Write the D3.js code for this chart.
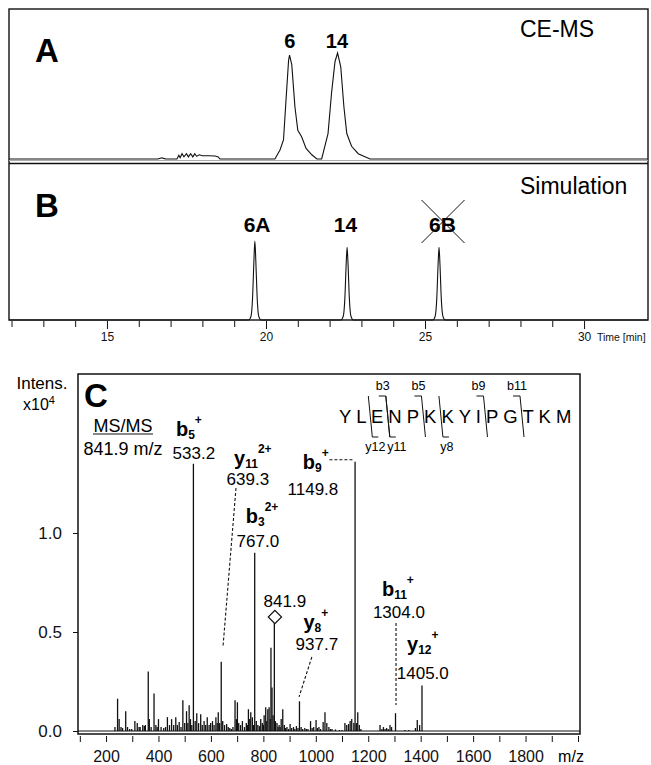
<!DOCTYPE html>
<html>
<head>
<meta charset="utf-8">
<script src="https://cdn.jsdelivr.net/npm/d3@7"></script>
<style>
    body { margin: 0; background: #fff; }
    svg { display: block; font-family: "Liberation Sans", Arial, sans-serif; }
</style>
</head>
<body>
<svg id="chart" width="651" height="765"></svg>
<script>
// Panel A: CE-MS electropherogram (time in min, relative intensity)
const timeA = [11.92, 16.6, 16.68, 16.72, 16.78, 16.85, 17.2, 17.26, 17.3, 17.36, 17.42, 17.5, 17.56,
    17.63, 17.7, 17.76, 17.82, 17.9, 18.0, 18.2, 18.4, 18.5, 18.55, 20.28, 20.44, 20.55, 20.63,
    20.71, 20.74, 20.81, 20.91, 21.0, 21.12, 21.26, 21.44, 21.6, 21.75, 21.95, 22.06, 22.17, 22.25,
    22.35, 22.45, 22.54, 22.69, 22.9, 23.27, 32.0];
const intensA = [0, 0, 0.008, 0.012, 0.006, 0, 0, 0.035, 0.012, 0.05, 0.02, 0.05, 0.02,
    0.05, 0.02, 0.05, 0.025, 0.04, 0.03, 0.03, 0.028, 0.02, 0, 0, 0.085, 0.18, 0.56,
    0.93, 0.98, 0.89, 0.49, 0.27, 0.21, 0.10, 0.04, 0, 0, 0.24, 0.62, 0.92, 1.0,
    0.87, 0.49, 0.24, 0.12, 0.05, 0, 0];

// Panel B: simulated electropherogram
const timeB = [11.92, 19.45, 19.53, 19.58, 19.62, 19.65, 19.68, 19.72, 19.77, 19.85,
    22.35, 22.43, 22.48, 22.52, 22.55, 22.58, 22.62, 22.67, 22.75,
    25.24, 25.32, 25.37, 25.41, 25.44, 25.47, 25.51, 25.56, 25.64, 32.0];
const intensB = [0, 0, 0.05, 0.3, 0.75, 1.0, 0.75, 0.3, 0.05, 0,
    0, 0.05, 0.28, 0.7, 0.92, 0.7, 0.28, 0.05, 0,
    0, 0.05, 0.28, 0.7, 0.92, 0.7, 0.28, 0.05, 0, 0];

const peakLabelsA = ['6', '14'];
const peakTimesA = [20.75, 22.23];
const peakLabelsB = ['6A', '14', '6B'];
const peakTimesB = [19.72, 22.5, 25.55];

const timeTicks = [12, 13, 14, 15, 16, 17, 18, 19, 20, 21, 22, 23, 24, 25, 26, 27, 28, 29, 30];
const timeTickLabels = [15, 20, 25, 30];

// Panel C: MS/MS spectrum (m/z, intensity x10^4)
const mzValues = [234, 244, 250, 257, 263, 275, 282, 290, 298, 310, 319, 326, 330, 340, 346, 350, 361, 365, 372, 383, 390,
    395, 400, 410, 420, 427, 434, 442, 450, 458, 466, 472, 479, 486, 493, 500, 507, 512, 517, 522, 527,
    533.2, 540, 546, 553, 561, 567, 574, 580, 586, 593, 599, 606, 612, 619, 624, 628, 633, 639.3, 645,
    652, 660, 666, 672, 678, 684, 692, 697, 701, 706, 713, 720, 728, 735, 739, 743, 748, 752, 758, 763, 767.0,
    773, 779, 785, 790, 796, 800, 803, 809, 813, 817, 822, 826, 829, 833, 837, 841.9, 846, 852, 856, 860,
    864, 868, 874, 880, 885, 890, 896, 902, 908, 915, 920, 926, 932, 937.7, 944, 950, 958, 964, 970, 980, 986, 992,
    1001, 1006, 1012, 1018, 1028, 1035, 1042, 1050, 1056, 1062, 1075, 1090, 1100, 1111, 1118, 1125, 1131, 1137, 1145,
    1149.8, 1155, 1160, 1166, 1172, 1245, 1252, 1258, 1264, 1270, 1276, 1283, 1289, 1304.0, 1340, 1355, 1380, 1387,
    1396, 1405.0];
const mzIntens = [0.02, 0.163, 0.06, 0.02, 0.015, 0.10, 0.02, 0.01, 0.01, 0.05, 0.04, 0.02, 0.02, 0.03, 0.025, 0.03, 0.30, 0.06, 0.02, 0.19, 0.03,
    0.02, 0.06, 0.02, 0.015, 0.02, 0.07, 0.03, 0.06, 0.03, 0.07, 0.03, 0.045, 0.02, 0.155, 0.04, 0.10, 0.04, 0.13, 0.06, 0.03,
    1.35, 0.05, 0.09, 0.04, 0.085, 0.03, 0.05, 0.03, 0.07, 0.03, 0.04, 0.05, 0.03, 0.07, 0.04, 0.095, 0.04, 0.35, 0.05,
    0.03, 0.035, 0.02, 0.015, 0.01, 0.02, 0.155, 0.06, 0.145, 0.04, 0.03, 0.05, 0.02, 0.04, 0.03, 0.11, 0.06, 0.095, 0.07, 0.03, 0.90,
    0.05, 0.03, 0.025, 0.06, 0.04, 0.03, 0.08, 0.12, 0.05, 0.11, 0.12, 0.06, 0.42, 0.22, 0.08, 0.545, 0.05, 0.04, 0.02, 0.03,
    0.02, 0.06, 0.11, 0.03, 0.015, 0.02, 0.01, 0.035, 0.015, 0.02, 0.01, 0.025, 0.015, 0.15, 0.02, 0.01, 0.015, 0.01, 0.01, 0.05, 0.015, 0.02,
    0.055, 0.015, 0.02, 0.01, 0.045, 0.095, 0.04, 0.02, 0.01, 0.01, 0.008, 0.005, 0.005, 0.04, 0.03, 0.035, 0.05, 0.06, 0.04,
    1.36, 0.04, 0.095, 0.03, 0.01, 0.03, 0.01, 0.02, 0.01, 0.015, 0.01, 0.03, 0.02, 0.09, 0.005, 0.005, 0.015, 0.055,
    0.03, 0.23];

const mzTicks = [100, 200, 300, 400, 500, 600, 700, 800, 900, 1000, 1100, 1200, 1300, 1400, 1500, 1600, 1700, 1800, 1900, 2000];
const mzTickLabels = [200, 400, 600, 800, 1000, 1200, 1400, 1600, 1800];
const intensTicks = [0, 0.5, 1.0];

// fragment annotations: ion, subscript, superscript, m/z text
const ionNames = ['b', 'y', 'b', 'b', 'y', 'b', 'y'];
const ionSubs = ['5', '11', '3', '9', '8', '11', '12'];
const ionSups = ['+', '2+', '2+', '+', '+', '+', '+'];
const ionValues = ['533.2', '639.3', '767.0', '1149.8', '937.7', '1304.0', '1405.0'];

const sequence = 'YLENPKKYIPGTKM';
const fragNames = ['b3', 'b5', 'b9', 'b11', 'y12', 'y11', 'y8'];
const fragAfter = [3, 5, 9, 11, 2, 3, 6];
const fragLabelDx = [-3, -3, -5, -3, 7, 11, 8];

const ink = '#111';
const fontFamily = '"Liberation Sans", Arial, sans-serif';
const svg = d3.select('#chart');

// ---------- Panels A and B ----------
const xTime = d3.scaleLinear().domain([11.92, 32.01]).range([9, 648]);
const yA = d3.scaleLinear().domain([0, 1]).range([159, 53]);
const yB = d3.scaleLinear().domain([0, 1]).range([320, 241]);

svg.append('rect')
    .attr('x', 9).attr('y', 9).attr('width', 639).attr('height', 311)
    .attr('fill', 'none').attr('stroke', ink).attr('stroke-width', 1.4);
svg.append('line')
    .attr('x1', 9).attr('x2', 648).attr('y1', 163.5).attr('y2', 163.5)
    .attr('stroke', ink).attr('stroke-width', 1.4);

// faint baseline under trace A
svg.append('line')
    .attr('x1', 9).attr('x2', 648).attr('y1', yA(0) + 1.5).attr('y2', yA(0) + 1.5)
    .attr('stroke', '#aaa').attr('stroke-width', 1);

const lineA = d3.line().x((d, i) => xTime(timeA[i])).y((d) => yA(d));
svg.append('path')
    .attr('d', lineA(intensA))
    .attr('fill', 'none').attr('stroke', ink).attr('stroke-width', 1.1);

const lineB = d3.line().x((d, i) => xTime(timeB[i])).y((d) => yB(d)).curve(d3.curveMonotoneX);
svg.append('path')
    .attr('d', lineB(intensB))
    .attr('fill', 'none').attr('stroke', ink).attr('stroke-width', 1.1);

svg.append('g').selectAll('text')
    .data(peakLabelsA)
    .join('text')
    .attr('x', (d, i) => xTime(peakTimesA[i]))
    .attr('y', 47.5)
    .attr('text-anchor', 'middle')
    .attr('font-size', 20).attr('font-weight', 'bold')
    .text((d) => d);

svg.append('g').selectAll('text')
    .data(peakLabelsB)
    .join('text')
    .attr('x', (d, i) => xTime(peakTimesB[i]))
    .attr('y', 232)
    .attr('text-anchor', 'middle')
    .attr('font-size', 21).attr('font-weight', 'bold')
    .text((d) => d);

// cross over 6B
const crossX = xTime(peakTimesB[2]);
svg.append('path')
    .attr('d', `M${crossX - 21},200L${crossX + 22},243M${crossX + 22},200L${crossX - 21},243`)
    .attr('stroke', ink).attr('stroke-width', 1).attr('fill', 'none');

svg.append('text').attr('x', 35).attr('y', 62).attr('font-size', 33).attr('font-weight', 'bold').text('A');
svg.append('text').attr('x', 35).attr('y', 217).attr('font-size', 33).attr('font-weight', 'bold').text('B');
svg.append('text').attr('x', 520).attr('y', 37).attr('font-size', 23).text('CE-MS');
svg.append('text').attr('x', 520).attr('y', 194).attr('font-size', 23).text('Simulation');

const axisTime = d3.axisBottom(xTime)
    .tickValues(timeTicks)
    .tickSize(6)
    .tickPadding(5)
    .tickFormat((d) => (timeTickLabels.includes(d) ? d : ''));
const gTime = svg.append('g').attr('transform', 'translate(0,321)').call(axisTime);
gTime.select('.domain').remove();
gTime.selectAll('.tick line').attr('stroke', ink)
    .attr('y2', (d) => (timeTickLabels.includes(d) ? 8 : 6));
gTime.selectAll('.tick text').attr('font-size', 12).attr('font-family', fontFamily).attr('fill', ink);
svg.append('text').attr('x', 597).attr('y', 341).attr('font-size', 10.5).attr('fill', ink).text('Time [min]');

// ---------- Panel C ----------
const xMz = d3.scaleLinear().domain([0, 2000]).range([53.6, 578]);
const yInt = d3.scaleLinear().domain([0, 1]).range([731, 533]);

svg.append('rect')
    .attr('x', 78).attr('y', 374).attr('width', 502).attr('height', 360)
    .attr('fill', 'none').attr('stroke', ink).attr('stroke-width', 1.5);
svg.append('line')
    .attr('x1', 78).attr('x2', 580).attr('y1', yInt(0)).attr('y2', yInt(0))
    .attr('stroke', ink).attr('stroke-width', 1.2);

svg.append('g').selectAll('line')
    .data(mzIntens)
    .join('line')
    .attr('x1', (d, i) => xMz(mzValues[i]))
    .attr('x2', (d, i) => xMz(mzValues[i]))
    .attr('y1', yInt(0))
    .attr('y2', (d) => yInt(d))
    .attr('stroke', ink)
    .attr('stroke-width', 1.3);

const axisY = d3.axisLeft(yInt).tickValues(intensTicks).tickFormat(d3.format('.1f')).tickSize(5).tickPadding(11);
const gY = svg.append('g').attr('transform', 'translate(78,0)').call(axisY);
gY.select('.domain').remove();
gY.selectAll('.tick line').attr('stroke', ink);
gY.selectAll('.tick text').attr('font-size', 17).attr('font-family', fontFamily).attr('fill', ink);

const axisMz = d3.axisBottom(xMz)
    .tickValues(mzTicks)
    .tickSize(6)
    .tickPadding(9)
    .tickFormat((d) => (mzTickLabels.includes(d) ? d : ''));
const gMz = svg.append('g').attr('transform', 'translate(0,736)').call(axisMz);
gMz.select('.domain').remove();
gMz.selectAll('.tick line').attr('stroke', ink);
gMz.selectAll('.tick text').attr('font-size', 16).attr('font-family', fontFamily).attr('fill', ink);
svg.append('text').attr('x', 571).attr('y', 762).attr('text-anchor', 'middle').attr('font-size', 16).text('m/z');

svg.append('text').attr('x', 42).attr('y', 389).attr('text-anchor', 'middle').attr('font-size', 17).text('Intens.');
const x10 = svg.append('text').attr('x', 23).attr('y', 410).attr('font-size', 16);
x10.append('tspan').text('x10');
x10.append('tspan').attr('font-size', 11).attr('dy', -6).text('4');

svg.append('text').attr('x', 84).attr('y', 407).attr('font-size', 33).attr('font-weight', 'bold').text('C');
svg.append('text').attr('x', 123).attr('y', 432).attr('text-anchor', 'middle').attr('font-size', 18).text('MS/MS');
svg.append('line').attr('x1', 93).attr('x2', 153).attr('y1', 434).attr('y2', 434).attr('stroke', ink).attr('stroke-width', 1.2);
svg.append('text').attr('x', 123).attr('y', 455).attr('text-anchor', 'middle').attr('font-size', 18).text('841.9 m/z');

// ion labels: symbol line and value line, in data units
const ionPos = [
    { sx: 516, sy: 1.49, vx: 535, vy: 1.374 },
    { sx: 760, sy: 1.345, vx: 741, vy: 1.242 },
    { sx: 795, sy: 1.05, vx: 779, vy: 0.929 },
    { sx: 1000, sy: 1.325, vx: 989, vy: 1.19 },
    { sx: 1000, sy: 0.515, vx: 1004, vy: 0.409 },
    { sx: 1313, sy: 0.68, vx: 1317, vy: 0.571 },
    { sx: 1408, sy: 0.404, vx: 1408, vy: 0.263 },
];
ionNames.forEach((name, i) => {
    const p = ionPos[i];
    const t = svg.append('text')
        .attr('x', xMz(p.sx)).attr('y', yInt(p.sy))
        .attr('text-anchor', 'middle')
        .attr('font-weight', 'bold');
    t.append('tspan').attr('font-size', 20).text(name);
    t.append('tspan').attr('font-size', 12).attr('dy', 3).text(ionSubs[i]);
    t.append('tspan').attr('font-size', 12).attr('dy', -15).text(ionSups[i]);
    svg.append('text')
        .attr('x', xMz(p.vx)).attr('y', yInt(p.vy))
        .attr('text-anchor', 'middle')
        .attr('font-size', 17)
        .text(ionValues[i]);
});

// dashed leader lines
const leaders = [
    [695.6, 1.227, 646, 0.424],
    [1052, 1.37, 1142, 1.37],
    [985, 0.374, 936, 0.172],
    [1306, 0.545, 1306, 0.131],
];
svg.append('g').selectAll('line')
    .data(leaders)
    .join('line')
    .attr('x1', (d) => xMz(d[0])).attr('y1', (d) => yInt(d[1]))
    .attr('x2', (d) => xMz(d[2])).attr('y2', (d) => yInt(d[3]))
    .attr('stroke', ink).attr('stroke-width', 1.1).attr('stroke-dasharray', '3,2');

// precursor marker
svg.append('path')
    .attr('d', d3.symbol(d3.symbolSquare, 88)())
    .attr('transform', `translate(${xMz(844)},${yInt(0.576)}) rotate(45)`)
    .attr('fill', '#fff').attr('stroke', ink).attr('stroke-width', 1.2);
svg.append('text').attr('x', xMz(882)).attr('y', yInt(0.626)).attr('text-anchor', 'middle').attr('font-size', 17).text('841.9');

// peptide sequence with fragment cleavage marks
const seqText = svg.append('text')
    .attr('x', 339).attr('y', 423)
    .attr('font-size', 18.5)
    .text(sequence.split('').join(' '));
const seqNode = seqText.node();
const markTop = 396;
const markBottom = 437;
fragNames.forEach((name, i) => {
    const ext = seqNode.getExtentOfChar(2 * fragAfter[i] - 1);
    const g = ext.x + ext.width / 2;
    const isB = name[0] === 'b';
    const d = isB
        ? `M${g - 7},${markTop}H${g}L${g + 4},${markBottom}`
        : `M${g},${markTop}L${g + 4},${markBottom}H${g + 10}`;
    svg.append('path').attr('d', d).attr('fill', 'none').attr('stroke', ink).attr('stroke-width', 1);
    svg.append('text')
        .attr('x', g + fragLabelDx[i])
        .attr('y', isB ? 390 : 451)
        .attr('text-anchor', 'middle')
        .attr('font-size', 12.5)
        .text(name);
});
</script>
</body>
</html>
